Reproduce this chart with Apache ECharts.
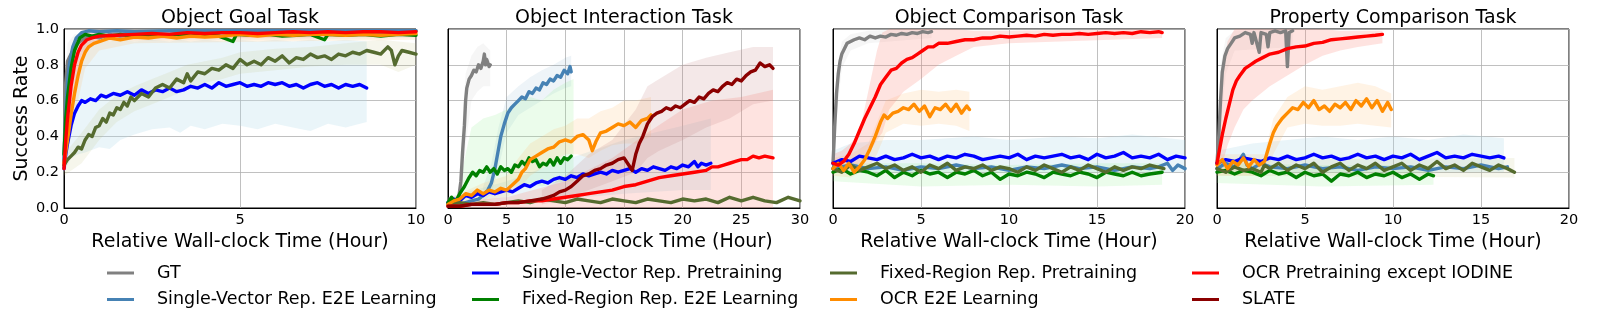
<!DOCTYPE html>
<html>
<head>
<meta charset="utf-8">
<script src="https://cdn.jsdelivr.net/npm/echarts@6/dist/echarts.min.js"></script>
<style>html,body{margin:0;padding:0;background:#fff}#c{width:1600px;height:325px}</style>
</head>
<body>
<div id="c"></div>
<script>
// ---------------- DATA ----------------
const taskTitles = ['Object Goal Task', 'Object Interaction Task', 'Object Comparison Task', 'Property Comparison Task'];
const xMaxHours = [10, 30, 20, 20];
const xTickStep = 5;
const yTickStep = 0.2;
const methodKeys = ['GT', 'SVE', 'SVP', 'FRE', 'FRP', 'OCRE', 'OCRP', 'SLATE'];
const methodNames = ['GT', 'Single-Vector Rep. E2E Learning', 'Single-Vector Rep. Pretraining', 'Fixed-Region Rep. E2E Learning', 'Fixed-Region Rep. Pretraining', 'OCR E2E Learning', 'OCR Pretraining except IODINE', 'SLATE'];

// ---- Object Goal Task: mean curves [hour, success]
const goal_GT = [[0,0.25],[0.05,0.7],[0.1,0.82],[0.2,0.86],[0.3,0.9],[0.45,0.93],[0.6,0.95],[0.8,0.96],[1,0.95],[1.3,0.97],[1.6,0.96],[2,0.97],[2.5,0.96],[3,0.97],[3.5,0.98],[4,0.97],[4.5,0.98],[5,0.97],[5.5,0.98],[6,0.98],[6.5,0.97],[7,0.98],[7.5,0.98],[8,0.97],[8.5,0.98],[9,0.98],[9.5,0.98],[10,0.99]];
const goal_SVE = [[0,0.26],[0.05,0.55],[0.1,0.7],[0.15,0.8],[0.25,0.9],[0.35,0.95],[0.5,0.98],[0.7,0.99],[1,0.985],[1.5,0.99],[2,0.985],[3,0.99],[4,0.99],[5,0.99],[6,0.99],[7,0.99],[8,0.99],[9,0.99],[10,0.99]];
const goal_SVP = [[0,0.22],[0.05,0.3],[0.1,0.36],[0.2,0.46],[0.3,0.53],[0.4,0.57],[0.5,0.6],[0.6,0.59],[0.75,0.61],[0.9,0.6],[1.05,0.63],[1.2,0.62],[1.4,0.64],[1.6,0.63],[1.8,0.65],[2,0.63],[2.2,0.66],[2.4,0.64],[2.6,0.66],[2.8,0.65],[3,0.67],[3.2,0.65],[3.4,0.66],[3.6,0.68],[3.8,0.67],[4,0.69],[4.2,0.67],[4.4,0.7],[4.6,0.68],[4.8,0.69],[5,0.7],[5.2,0.68],[5.4,0.69],[5.6,0.68],[5.8,0.7],[6,0.69],[6.2,0.7],[6.4,0.68],[6.6,0.69],[6.8,0.67],[7,0.69],[7.2,0.7],[7.4,0.68],[7.6,0.69],[7.8,0.67],[8,0.69],[8.2,0.68],[8.4,0.69],[8.6,0.67]];
const goal_FRE = [[0,0.3],[0.05,0.5],[0.1,0.62],[0.2,0.78],[0.3,0.88],[0.45,0.95],[0.6,0.97],[0.8,0.96],[1,0.97],[1.3,0.96],[1.6,0.97],[2,0.96],[2.4,0.97],[2.8,0.965],[3.2,0.97],[3.6,0.96],[4,0.97],[4.4,0.96],[4.8,0.93],[4.9,0.97],[5.3,0.965],[5.8,0.97],[6.2,0.96],[6.6,0.965],[7,0.97],[7.4,0.94],[7.5,0.97],[8,0.965],[8.5,0.97],[9,0.96],[9.5,0.97],[10,0.965]];
const goal_FRP = [[0,0.24],[0.1,0.27],[0.2,0.29],[0.3,0.31],[0.4,0.34],[0.5,0.33],[0.6,0.38],[0.7,0.41],[0.8,0.4],[0.9,0.45],[1,0.46],[1.1,0.5],[1.2,0.48],[1.3,0.53],[1.4,0.52],[1.5,0.56],[1.6,0.55],[1.7,0.59],[1.8,0.57],[1.9,0.62],[2,0.6],[2.2,0.64],[2.4,0.62],[2.6,0.67],[2.8,0.69],[3,0.67],[3.2,0.72],[3.4,0.7],[3.5,0.75],[3.6,0.71],[3.8,0.76],[4,0.75],[4.2,0.78],[4.4,0.77],[4.6,0.8],[4.8,0.78],[5,0.83],[5.2,0.8],[5.4,0.82],[5.6,0.8],[5.8,0.84],[6,0.82],[6.2,0.85],[6.4,0.81],[6.6,0.84],[6.8,0.83],[7,0.86],[7.2,0.84],[7.4,0.85],[7.6,0.83],[7.8,0.86],[8,0.85],[8.2,0.87],[8.4,0.86],[8.6,0.88],[8.8,0.87],[9,0.86],[9.2,0.9],[9.3,0.88],[9.4,0.8],[9.5,0.85],[9.6,0.88],[9.8,0.87],[10,0.86]];
const goal_OCRE = [[0,0.25],[0.1,0.38],[0.2,0.52],[0.3,0.64],[0.4,0.74],[0.5,0.82],[0.6,0.87],[0.7,0.9],[0.85,0.92],[1,0.93],[1.3,0.95],[1.6,0.94],[2,0.955],[2.4,0.95],[2.8,0.96],[3.2,0.95],[3.6,0.96],[4,0.955],[4.5,0.96],[5,0.97],[5.5,0.96],[6,0.97],[6.5,0.965],[7,0.97],[7.5,0.97],[8,0.965],[8.5,0.97],[9,0.965],[9.5,0.97],[10,0.975]];
const goal_OCRP = [[0,0.22],[0.05,0.38],[0.1,0.5],[0.2,0.68],[0.3,0.8],[0.4,0.87],[0.5,0.91],[0.65,0.94],[0.8,0.95],[1,0.96],[1.5,0.965],[2,0.97],[2.5,0.975],[3,0.97],[3.5,0.98],[4,0.975],[4.5,0.98],[5,0.98],[5.5,0.975],[6,0.98],[6.5,0.985],[7,0.98],[7.5,0.985],[8,0.98],[8.5,0.985],[9,0.985],[9.5,0.98],[10,0.985]];
// bands [hour, low, high]
const goalBand_GT = [[0,0.2,0.35],[0.1,0.7,0.92],[0.3,0.85,0.97],[1,0.93,0.99],[10,0.95,1]];
const goalBand_SVP = [[0,0.2,0.3],[0.2,0.28,0.75],[0.4,0.3,0.92],[0.6,0.31,0.94],[1,0.34,0.94],[1.3,0.33,0.93],[1.6,0.38,0.94],[2,0.41,0.93],[2.5,0.44,0.94],[3,0.45,0.93],[3.3,0.42,0.94],[3.6,0.46,0.93],[4,0.44,0.94],[4.5,0.47,0.93],[5,0.46,0.94],[5.5,0.44,0.93],[6,0.47,0.94],[6.5,0.45,0.93],[7,0.43,0.94],[7.5,0.47,0.93],[8,0.45,0.94],[8.6,0.48,0.93]];
const goalBand_FRP = [[0,0.18,0.3],[0.5,0.25,0.42],[1,0.38,0.55],[1.5,0.48,0.63],[2,0.54,0.68],[2.5,0.58,0.72],[3,0.62,0.76],[3.5,0.66,0.8],[4,0.7,0.82],[4.5,0.72,0.84],[5,0.75,0.87],[6,0.77,0.89],[7,0.79,0.9],[8,0.8,0.92],[9,0.8,0.94],[9.5,0.76,0.93],[10,0.8,0.92]];
const goalBand_OCRE = [[0,0.2,0.3],[0.2,0.4,0.65],[0.4,0.6,0.85],[0.6,0.78,0.94],[1,0.88,0.98],[2,0.92,0.99],[10,0.94,0.99]];
const goalBand_OCRP = [[0,0.18,0.3],[0.1,0.35,0.7],[0.2,0.5,0.85],[0.3,0.65,0.95],[0.5,0.85,0.99],[1,0.94,0.99],[10,0.96,1]];

// ---- Object Interaction Task
const inter_GT = [[0,0.02],[0.5,0.03],[0.9,0.05],[1.1,0.15],[1.25,0.32],[1.4,0.46],[1.5,0.6],[1.6,0.67],[1.8,0.72],[2,0.74],[2.2,0.77],[2.4,0.76],[2.6,0.8],[2.8,0.78],[3,0.82],[3.1,0.86],[3.2,0.8],[3.3,0.83],[3.5,0.79],[3.6,0.8]];
const inter_SVE = [[0,0.03],[1,0.02],[2,0.04],[2.6,0.05],[3,0.07],[3.4,0.1],[3.7,0.14],[4,0.22],[4.25,0.31],[4.5,0.4],[4.8,0.47],[5.1,0.53],[5.4,0.56],[5.7,0.58],[6,0.6],[6.3,0.62],[6.6,0.61],[6.9,0.65],[7.2,0.64],[7.5,0.67],[7.8,0.66],[8.1,0.7],[8.4,0.69],[8.7,0.72],[9,0.71],[9.3,0.74],[9.6,0.73],[9.9,0.77],[10.2,0.75],[10.4,0.79],[10.5,0.76]];
const inter_SVP = [[0,0.03],[0.5,0.05],[1,0.04],[1.5,0.07],[2,0.06],[2.5,0.08],[3,0.07],[3.5,0.09],[4,0.08],[4.5,0.09],[5,0.1],[5.5,0.09],[6,0.11],[6.5,0.13],[7,0.12],[7.5,0.14],[8,0.15],[8.5,0.14],[9,0.16],[9.5,0.17],[10,0.16],[10.5,0.18],[11,0.17],[11.5,0.19],[12,0.18],[12.5,0.19],[13,0.2],[13.5,0.19],[14,0.21],[14.5,0.2],[15,0.21],[15.5,0.22],[16,0.2],[16.5,0.22],[17,0.21],[17.5,0.23],[18,0.22],[18.5,0.21],[19,0.23],[19.5,0.22],[20,0.24],[20.5,0.23],[21,0.26],[21.3,0.23],[21.6,0.25],[22,0.24],[22.4,0.25]];
const inter_FRE = [[0,0.03],[0.3,0.06],[0.6,0.03],[1,0.08],[1.4,0.12],[1.8,0.17],[2.1,0.2],[2.4,0.18],[2.7,0.21],[3,0.2],[3.3,0.23],[3.6,0.2],[3.9,0.22],[4.2,0.19],[4.5,0.23],[4.8,0.21],[5.1,0.22],[5.4,0.2],[5.7,0.24],[6,0.23],[6.3,0.26],[6.6,0.24],[6.9,0.28],[7.2,0.26],[7.5,0.27],[7.8,0.23],[8.1,0.25],[8.4,0.24],[8.7,0.27],[9,0.24],[9.3,0.28],[9.6,0.25],[9.9,0.28],[10.2,0.27],[10.5,0.29]];
const inter_FRP = [[0,0.02],[1,0.03],[2,0.02],[3,0.03],[4,0.02],[5,0.03],[6,0.04],[7,0.03],[8,0.05],[9,0.04],[10,0.03],[11,0.05],[12,0.04],[13,0.03],[14,0.05],[15,0.04],[16,0.03],[17,0.05],[18,0.04],[19,0.03],[20,0.05],[21,0.04],[22,0.05],[23,0.03],[24,0.06],[25,0.04],[26,0.06],[27,0.04],[28,0.03],[29,0.06],[30,0.04]];
const inter_OCRE = [[0,0.02],[0.5,0.04],[1,0.05],[1.5,0.08],[2,0.07],[2.5,0.1],[3,0.08],[3.5,0.1],[4,0.09],[4.5,0.11],[5,0.1],[5.5,0.13],[6,0.16],[6.3,0.2],[6.6,0.22],[7,0.27],[7.5,0.29],[8,0.31],[8.5,0.33],[9,0.34],[9.5,0.37],[10,0.38],[10.5,0.37],[11,0.4],[11.5,0.41],[12,0.38],[12.3,0.32],[12.6,0.37],[13,0.42],[13.5,0.43],[14,0.45],[14.5,0.47],[15,0.46],[15.5,0.48],[16,0.45],[16.5,0.49],[17,0.5],[17.3,0.52]];
const inter_OCRP = [[0,0.01],[1,0.01],[2,0.02],[3,0.02],[4,0.02],[5,0.03],[6,0.03],[7,0.04],[8,0.04],[9,0.05],[10,0.06],[11,0.07],[12,0.08],[13,0.09],[14,0.1],[15,0.12],[16,0.13],[17,0.15],[18,0.17],[19,0.18],[20,0.19],[21,0.2],[22,0.21],[22.5,0.23],[23,0.23],[23.5,0.24],[24,0.25],[24.5,0.26],[25,0.27],[25.5,0.27],[26,0.29],[26.5,0.28],[27,0.29],[27.7,0.28]];
const inter_SLATE = [[0,0.01],[1,0.01],[2,0.02],[3,0.02],[4,0.02],[5,0.03],[6,0.03],[7,0.04],[8,0.05],[8.5,0.06],[9,0.07],[9.5,0.09],[10,0.1],[10.5,0.12],[11,0.15],[11.5,0.18],[12,0.19],[12.5,0.21],[13,0.22],[13.5,0.24],[14,0.25],[14.5,0.27],[15,0.28],[15.4,0.24],[15.7,0.21],[16,0.3],[16.3,0.36],[16.6,0.4],[17,0.47],[17.4,0.51],[17.8,0.53],[18.2,0.54],[18.6,0.56],[19,0.55],[19.4,0.57],[19.8,0.56],[20.2,0.58],[20.6,0.6],[21,0.59],[21.4,0.62],[21.8,0.61],[22.2,0.64],[22.6,0.66],[23,0.65],[23.4,0.68],[23.8,0.7],[24.2,0.69],[24.6,0.72],[25,0.71],[25.4,0.74],[25.8,0.76],[26.2,0.77],[26.6,0.81],[27,0.79],[27.4,0.8],[27.7,0.78]];
const interBand_GT = [[0.9,0.02,0.1],[1.2,0.1,0.45],[1.5,0.35,0.75],[2,0.6,0.85],[2.5,0.65,0.9],[3,0.68,0.92],[3.6,0.68,0.88]];
const interBand_SVE = [[3,0.03,0.12],[3.7,0.08,0.25],[4.3,0.22,0.45],[5,0.42,0.62],[6,0.52,0.68],[7,0.56,0.73],[8,0.6,0.77],[9,0.64,0.8],[10,0.67,0.84],[10.5,0.68,0.85]];
const interBand_SVP = [[0,0,0.06],[5,0.02,0.15],[10,0.05,0.27],[15,0.08,0.38],[20,0.1,0.46],[22.4,0.1,0.5]];
const interBand_FRE = [[1,0.03,0.12],[1.5,0.05,0.3],[2,0.08,0.45],[3,0.1,0.5],[4,0.1,0.52],[5,0.12,0.55],[6,0.12,0.6],[7,0.14,0.62],[8,0.12,0.6],[9,0.14,0.66],[10,0.15,0.7],[10.7,0.15,0.72]];
const interBand_OCRE = [[0,0.01,0.05],[3,0.04,0.14],[5,0.06,0.18],[6,0.1,0.28],[7,0.18,0.36],[8,0.22,0.4],[9,0.26,0.44],[10,0.3,0.46],[11,0.3,0.5],[12,0.28,0.5],[13,0.32,0.54],[14,0.35,0.56],[15,0.36,0.6],[16,0.36,0.6],[17.3,0.4,0.62]];
const interBand_OCRP = [[0,0,0.03],[5,0,0.06],[10,0,0.15],[14,0,0.28],[17,0,0.42],[20,0,0.55],[22.5,0,0.6],[25,0,0.62],[27.7,0,0.66]];
const interBand_SLATE = [[8,0.02,0.1],[10,0.05,0.18],[12,0.1,0.3],[14,0.15,0.38],[16,0.2,0.55],[17,0.28,0.68],[18,0.32,0.72],[20,0.38,0.8],[22,0.45,0.84],[24,0.5,0.87],[26,0.58,0.9],[27.7,0.6,0.9]];

// ---- Object Comparison Task
const comp_GT = [[0,0.25],[0.05,0.35],[0.1,0.46],[0.2,0.64],[0.3,0.75],[0.4,0.82],[0.5,0.86],[0.6,0.88],[0.8,0.92],[1,0.93],[1.2,0.94],[1.5,0.95],[1.8,0.94],[2.1,0.96],[2.4,0.95],[2.7,0.96],[3,0.955],[3.3,0.97],[3.6,0.965],[3.9,0.975],[4.2,0.97],[4.5,0.98],[4.8,0.975],[5.1,0.985],[5.4,0.98],[5.6,0.985]];
const comp_SVE = [[0,0.22],[1,0.24],[2,0.22],[3,0.23],[4,0.21],[5,0.23],[6,0.22],[7,0.24],[8,0.22],[9,0.23],[10,0.21],[11,0.23],[12,0.22],[13,0.24],[14,0.22],[15,0.23],[16,0.21],[17,0.23],[18,0.22],[18.5,0.23],[19,0.25],[19.3,0.21],[19.6,0.24],[20,0.22]];
const comp_SVP = [[0,0.25],[0.5,0.27],[1,0.26],[1.5,0.29],[2,0.28],[2.5,0.27],[3,0.29],[3.5,0.27],[4,0.28],[4.5,0.3],[5,0.28],[5.5,0.29],[6,0.27],[6.5,0.29],[7,0.28],[7.5,0.3],[8,0.29],[8.5,0.27],[9,0.28],[9.5,0.29],[10,0.28],[10.5,0.3],[11,0.27],[11.5,0.29],[12,0.28],[12.5,0.29],[13,0.3],[13.5,0.28],[14,0.29],[14.5,0.27],[15,0.3],[15.5,0.28],[16,0.29],[16.5,0.31],[17,0.28],[17.5,0.29],[18,0.28],[18.5,0.3],[19,0.27],[19.5,0.29],[20,0.28]];
const comp_FRE = [[0,0.2],[0.5,0.22],[1,0.19],[1.5,0.21],[2,0.2],[2.5,0.18],[3,0.21],[3.5,0.17],[4,0.2],[4.5,0.18],[5,0.21],[5.5,0.19],[6,0.2],[6.5,0.17],[7,0.2],[7.5,0.19],[8,0.21],[8.5,0.18],[9,0.2],[9.5,0.16],[10,0.19],[10.5,0.18],[11,0.2],[11.5,0.19],[12,0.17],[12.5,0.2],[13,0.19],[13.5,0.18],[14,0.2],[14.5,0.19],[15,0.17],[15.5,0.2],[16,0.19],[16.5,0.18],[17,0.2],[17.5,0.18],[18,0.19],[18.7,0.2]];
const comp_FRP = [[0,0.22],[0.5,0.2],[1,0.24],[1.5,0.21],[2,0.23],[2.5,0.25],[3,0.22],[3.5,0.24],[4,0.21],[4.5,0.23],[5,0.2],[5.5,0.24],[6,0.22],[6.5,0.25],[7,0.21],[7.5,0.23],[8,0.22],[8.5,0.24],[9,0.21],[9.5,0.23],[10,0.22],[10.5,0.2],[11,0.23],[11.5,0.21],[12,0.24],[12.5,0.22],[13,0.2],[13.5,0.23],[14,0.21],[14.5,0.24],[15,0.22],[15.5,0.2],[16,0.23],[16.5,0.21],[17,0.23],[17.5,0.22],[18,0.24],[18.8,0.22]];
const comp_OCRE = [[0,0.22],[0.3,0.25],[0.6,0.21],[0.9,0.25],[1.2,0.2],[1.5,0.23],[1.8,0.27],[2.1,0.33],[2.4,0.4],[2.7,0.48],[2.9,0.52],[3.1,0.5],[3.4,0.53],[3.7,0.54],[4,0.56],[4.3,0.55],[4.6,0.58],[4.9,0.54],[5.2,0.57],[5.5,0.51],[5.8,0.56],[6.1,0.55],[6.4,0.58],[6.7,0.54],[7,0.58],[7.3,0.53],[7.6,0.57],[7.75,0.55]];
const comp_OCRP = [[0,0.25],[0.3,0.24],[0.6,0.26],[0.9,0.3],[1.2,0.36],[1.5,0.43],[1.8,0.5],[2.1,0.56],[2.4,0.62],[2.7,0.69],[3,0.73],[3.3,0.77],[3.6,0.78],[3.9,0.81],[4.2,0.83],[4.5,0.84],[4.8,0.86],[5.1,0.88],[5.4,0.9],[5.7,0.9],[6,0.92],[6.5,0.92],[7,0.93],[7.5,0.94],[8,0.94],[8.5,0.95],[9,0.95],[9.5,0.96],[10,0.955],[10.5,0.96],[11,0.965],[11.5,0.96],[12,0.97],[12.5,0.965],[13,0.97],[13.5,0.97],[14,0.975],[14.5,0.97],[15,0.975],[15.5,0.98],[16,0.975],[16.5,0.98],[17,0.975],[17.5,0.985],[18,0.98],[18.5,0.985],[18.7,0.98]];
const compBand_GT = [[0,0.2,0.3],[0.2,0.5,0.75],[0.5,0.78,0.93],[1,0.88,0.97],[2,0.92,0.99],[5.6,0.95,1]];
const compBand_SVP = [[0,0.2,0.32],[1,0.2,0.36],[3,0.2,0.38],[5,0.2,0.38],[8,0.2,0.4],[10,0.2,0.38],[13,0.2,0.4],[15,0.2,0.39],[17,0.2,0.41],[20,0.2,0.38]];
const compBand_FRE = [[0,0.15,0.25],[5,0.12,0.25],[10,0.13,0.24],[15,0.12,0.25],[18.7,0.13,0.25]];
const compBand_OCRE = [[0,0.18,0.28],[1,0.17,0.3],[2,0.22,0.36],[2.5,0.3,0.48],[3,0.42,0.6],[4,0.47,0.64],[5,0.46,0.66],[6,0.47,0.65],[7,0.46,0.66],[7.75,0.43,0.65]];
const compBand_OCRP = [[0,0.2,0.3],[0.5,0.2,0.32],[1,0.22,0.36],[1.5,0.25,0.42],[2,0.3,0.65],[2.5,0.38,0.88],[2.8,0.42,0.98],[3.2,0.55,1],[4,0.65,1],[5,0.72,1],[6,0.8,1],[7,0.85,1],[8,0.9,0.99],[10,0.92,0.99],[18.7,0.95,1]];

// ---- Property Comparison Task
const prop_GT = [[0,0.25],[0.1,0.4],[0.2,0.6],[0.3,0.76],[0.45,0.85],[0.6,0.89],[0.8,0.92],[1,0.95],[1.3,0.96],[1.6,0.98],[1.9,0.97],[2,0.92],[2.1,0.98],[2.4,0.87],[2.5,0.98],[2.8,0.97],[2.9,0.9],[3,0.98],[3.3,0.99],[3.6,0.98],[3.9,0.99],[4,0.79],[4.1,0.98],[4.3,0.99]];
const prop_SVE = [[0,0.22],[0.5,0.25],[1,0.23],[1.5,0.3],[1.7,0.24],[2,0.22],[2.5,0.25],[3,0.23],[4,0.22],[5,0.24],[6,0.22],[7,0.23],[8,0.21],[9,0.23],[10,0.22],[11,0.23],[12,0.21],[13,0.23],[14,0.22],[15,0.24],[16,0.22],[16.5,0.23]];
const prop_SVP = [[0,0.25],[0.5,0.27],[1,0.26],[1.5,0.28],[2,0.27],[2.5,0.26],[3,0.28],[3.5,0.27],[4,0.29],[4.5,0.27],[5,0.28],[5.5,0.3],[6,0.28],[6.5,0.29],[7,0.27],[7.5,0.28],[8,0.3],[8.5,0.28],[9,0.29],[9.5,0.27],[10,0.29],[10.5,0.28],[11,0.3],[11.5,0.27],[12,0.29],[12.5,0.31],[13,0.28],[13.5,0.29],[14,0.28],[14.5,0.3],[15,0.29],[15.5,0.28],[16,0.29],[16.3,0.28]];
const prop_FRE = [[0,0.2],[0.5,0.21],[1,0.19],[1.5,0.21],[2,0.2],[2.5,0.18],[3,0.21],[3.5,0.19],[4,0.2],[4.5,0.17],[5,0.2],[5.5,0.18],[6,0.19],[6.5,0.15],[7,0.19],[7.5,0.18],[8,0.2],[8.5,0.17],[9,0.19],[9.5,0.18],[10,0.2],[10.5,0.17],[11,0.19],[11.5,0.16],[12,0.19],[12.3,0.18]];
const prop_FRP = [[0,0.22],[0.5,0.2],[1,0.23],[1.5,0.21],[2,0.22],[2.5,0.2],[2.7,0.24],[3,0.22],[3.5,0.25],[4,0.21],[4.5,0.24],[5,0.22],[5.5,0.25],[6,0.2],[6.5,0.23],[7,0.25],[7.5,0.21],[8,0.24],[8.5,0.22],[9,0.25],[9.5,0.21],[10,0.23],[10.5,0.25],[11,0.21],[11.5,0.24],[12,0.22],[12.5,0.26],[13,0.22],[13.5,0.24],[14,0.21],[14.5,0.25],[15,0.23],[15.5,0.21],[16,0.24],[16.5,0.22],[16.9,0.2]];
const prop_OCRE = [[0,0.24],[0.3,0.27],[0.6,0.22],[0.9,0.26],[1.2,0.24],[1.5,0.28],[1.8,0.23],[2.1,0.27],[2.4,0.24],[2.7,0.26],[3,0.36],[3.2,0.42],[3.4,0.46],[3.7,0.5],[4,0.53],[4.3,0.56],[4.6,0.55],[4.9,0.59],[5.2,0.56],[5.5,0.6],[5.8,0.55],[6.1,0.57],[6.4,0.54],[6.7,0.58],[7,0.56],[7.3,0.59],[7.6,0.55],[7.9,0.6],[8.2,0.57],[8.5,0.61],[8.8,0.56],[9.1,0.6],[9.4,0.54],[9.7,0.59],[9.9,0.55]];
const prop_OCRP = [[0,0.25],[0.15,0.33],[0.3,0.41],[0.5,0.5],[0.7,0.58],[0.9,0.66],[1.1,0.71],[1.3,0.74],[1.6,0.78],[1.9,0.8],[2.2,0.82],[2.6,0.84],[3,0.86],[3.5,0.87],[4,0.89],[4.5,0.9],[5,0.905],[5.5,0.92],[6,0.925],[6.5,0.94],[7,0.945],[7.5,0.95],[8,0.955],[8.5,0.96],[9,0.965],[9.4,0.97]];
const propBand_GT = [[0,0.2,0.3],[0.2,0.45,0.8],[0.5,0.75,0.95],[1,0.88,0.99],[4.3,0.9,1]];
const propBand_SVP = [[0,0.2,0.32],[2,0.2,0.36],[4,0.2,0.38],[6,0.2,0.4],[8,0.2,0.38],[10,0.2,0.4],[12,0.2,0.38],[14,0.2,0.41],[16.3,0.2,0.39]];
const propBand_FRE = [[0,0.14,0.25],[6,0.12,0.24],[12.3,0.13,0.24]];
const propBand_FRP = [[0,0.18,0.27],[16.9,0.17,0.28]];
const propBand_OCRE = [[0,0.18,0.3],[2.7,0.18,0.3],[3.2,0.3,0.5],[4,0.45,0.62],[5,0.47,0.68],[6,0.46,0.66],[7,0.46,0.68],[8,0.47,0.7],[9,0.46,0.68],[9.9,0.45,0.64]];
const propBand_OCRP = [[0,0.2,0.3],[0.2,0.22,0.55],[0.4,0.28,0.8],[0.6,0.35,0.93],[1,0.45,1],[1.5,0.55,1],[2,0.6,1],[3,0.68,1],[4,0.74,1],[5,0.8,1],[6,0.85,1],[7,0.88,0.99],[8,0.9,0.99],[9.4,0.92,0.99]];

// ---------------- assembly ----------------
const panels = [
  {lines:{GT:goal_GT,SVE:goal_SVE,SVP:goal_SVP,FRE:goal_FRE,FRP:goal_FRP,OCRE:goal_OCRE,OCRP:goal_OCRP},
   bands:{GT:goalBand_GT,SVP:goalBand_SVP,FRP:goalBand_FRP,OCRE:goalBand_OCRE,OCRP:goalBand_OCRP}},
  {lines:{GT:inter_GT,SVE:inter_SVE,SVP:inter_SVP,FRE:inter_FRE,FRP:inter_FRP,OCRE:inter_OCRE,OCRP:inter_OCRP,SLATE:inter_SLATE},
   bands:{GT:interBand_GT,SVE:interBand_SVE,SVP:interBand_SVP,FRE:interBand_FRE,OCRE:interBand_OCRE,OCRP:interBand_OCRP,SLATE:interBand_SLATE}},
  {lines:{GT:comp_GT,SVE:comp_SVE,SVP:comp_SVP,FRE:comp_FRE,FRP:comp_FRP,OCRE:comp_OCRE,OCRP:comp_OCRP},
   bands:{GT:compBand_GT,SVP:compBand_SVP,FRE:compBand_FRE,OCRE:compBand_OCRE,OCRP:compBand_OCRP}},
  {lines:{GT:prop_GT,SVE:prop_SVE,SVP:prop_SVP,FRE:prop_FRE,FRP:prop_FRP,OCRE:prop_OCRE,OCRP:prop_OCRP},
   bands:{GT:propBand_GT,SVP:propBand_SVP,FRE:propBand_FRE,FRP:propBand_FRP,OCRE:propBand_OCRE,OCRP:propBand_OCRP}}
];

const lineColor = {GT:'#808080',SVE:'#4682B4',SVP:'#0000FF',FRE:'#008000',FRP:'#556B2F',OCRE:'#FF8C00',OCRP:'#FF0000',SLATE:'#8B0000'};
const bandColor = {GT:'rgba(150,150,150,0.09)',SVE:'rgba(70,130,180,0.09)',SVP:'rgba(173,216,230,0.26)',FRE:'rgba(144,238,144,0.18)',FRP:'rgba(189,183,107,0.13)',OCRE:'rgba(255,190,110,0.18)',OCRP:'rgba(250,128,114,0.22)',SLATE:'rgba(188,120,120,0.17)'};

const FONT = 'DejaVu Sans';
const gridLeft = [64, 448, 833, 1217];
const gridW = 352, gridTop = 29, gridH = 179;

const grids = [], xAxes = [], yAxes = [], titles = [], series = [];
panels.forEach((p, gi) => {
  grids.push({left: gridLeft[gi], top: gridTop, width: gridW, height: gridH, show: true, borderColor: '#000', borderWidth: 1, backgroundColor: 'transparent'});
  xAxes.push({type: 'value', gridIndex: gi, min: 0, max: xMaxHours[gi], interval: xTickStep,
    name: 'Relative Wall-clock Time (Hour)', nameLocation: 'middle', nameGap: 13,
    nameTextStyle: {fontFamily: FONT, fontSize: 19, color: '#000'},
    axisLine: {show: true, onZero: false, lineStyle: {color: '#000', width: 1}},
    axisTick: {show: false},
    axisLabel: {fontFamily: FONT, fontSize: 14.5, color: '#000', margin: 5, showMinLabel: true, showMaxLabel: true},
    splitLine: {show: true, lineStyle: {color: '#b0b0b0', width: 0.8}}});
  yAxes.push({type: 'value', gridIndex: gi, min: 0, max: 1, interval: yTickStep,
    name: gi === 0 ? 'Success Rate' : '', nameLocation: 'middle', nameGap: 32, nameRotate: 90,
    nameTextStyle: {fontFamily: FONT, fontSize: 19, color: '#000'},
    axisLine: {show: true, onZero: false, lineStyle: {color: '#000', width: 1}},
    axisTick: {show: false},
    axisLabel: {show: gi === 0, fontFamily: FONT, fontSize: 14.5, color: '#000', margin: 5, formatter: v => v.toFixed(1)},
    splitLine: {show: true, lineStyle: {color: '#b0b0b0', width: 0.8}}});
  titles.push({text: taskTitles[gi], left: gridLeft[gi] + gridW / 2, top: 9, textAlign: 'center', padding: 0,
    textStyle: {fontFamily: FONT, fontSize: 19, fontWeight: 'normal', color: '#000'}});
  // uncertainty bands
  methodKeys.forEach(k => {
    const rows = p.bands[k];
    if (!rows) return;
    series.push({type: 'custom', xAxisIndex: gi, yAxisIndex: gi, silent: true, z: 1, clip: true, animation: false,
      data: rows, encode: {x: 0, y: [1, 2]},
      renderItem: (params, api) => {
        if (params.dataIndex !== 0) return null;
        const pts = [];
        rows.forEach(r => pts.push(api.coord([r[0], r[2]])));
        for (let i = rows.length - 1; i >= 0; i--) pts.push(api.coord([rows[i][0], rows[i][1]]));
        return {type: 'polygon', shape: {points: pts}, style: {fill: bandColor[k]}};
      }});
  });
  // mean curves
  methodKeys.forEach((k, mi) => {
    const d = p.lines[k];
    if (!d) return;
    series.push({type: 'line', name: methodNames[mi], xAxisIndex: gi, yAxisIndex: gi, data: d, z: 2 + mi * 0.01,
      showSymbol: false, symbol: 'none', animation: false, clip: true,
      lineStyle: {color: lineColor[k], width: 3.4, join: 'round', cap: 'round'}, itemStyle: {color: lineColor[k]}});
  });
});

// legend: 4 columns x 2 rows (matplotlib ncol=4 ordering)
const legendCols = [107, 472, 830, 1192];
const legends = legendCols.map((lx, c) => ({
  left: lx, top: 264, orient: 'vertical', padding: 0, itemGap: 8.5,
  itemWidth: 27, itemHeight: 3, icon: 'rect', selectedMode: false,
  data: [methodNames[c * 2], methodNames[c * 2 + 1]],
  textStyle: {fontFamily: FONT, fontSize: 17.5, color: '#000', padding: [0, 0, 0, 18]}
}));

const chart = echarts.init(document.getElementById('c'), null, {renderer: 'canvas'});
chart.setOption({
  animation: false,
  backgroundColor: '#fff',
  title: titles,
  legend: legends,
  grid: grids,
  xAxis: xAxes,
  yAxis: yAxes,
  series: series
});
</script>
</body>
</html>
